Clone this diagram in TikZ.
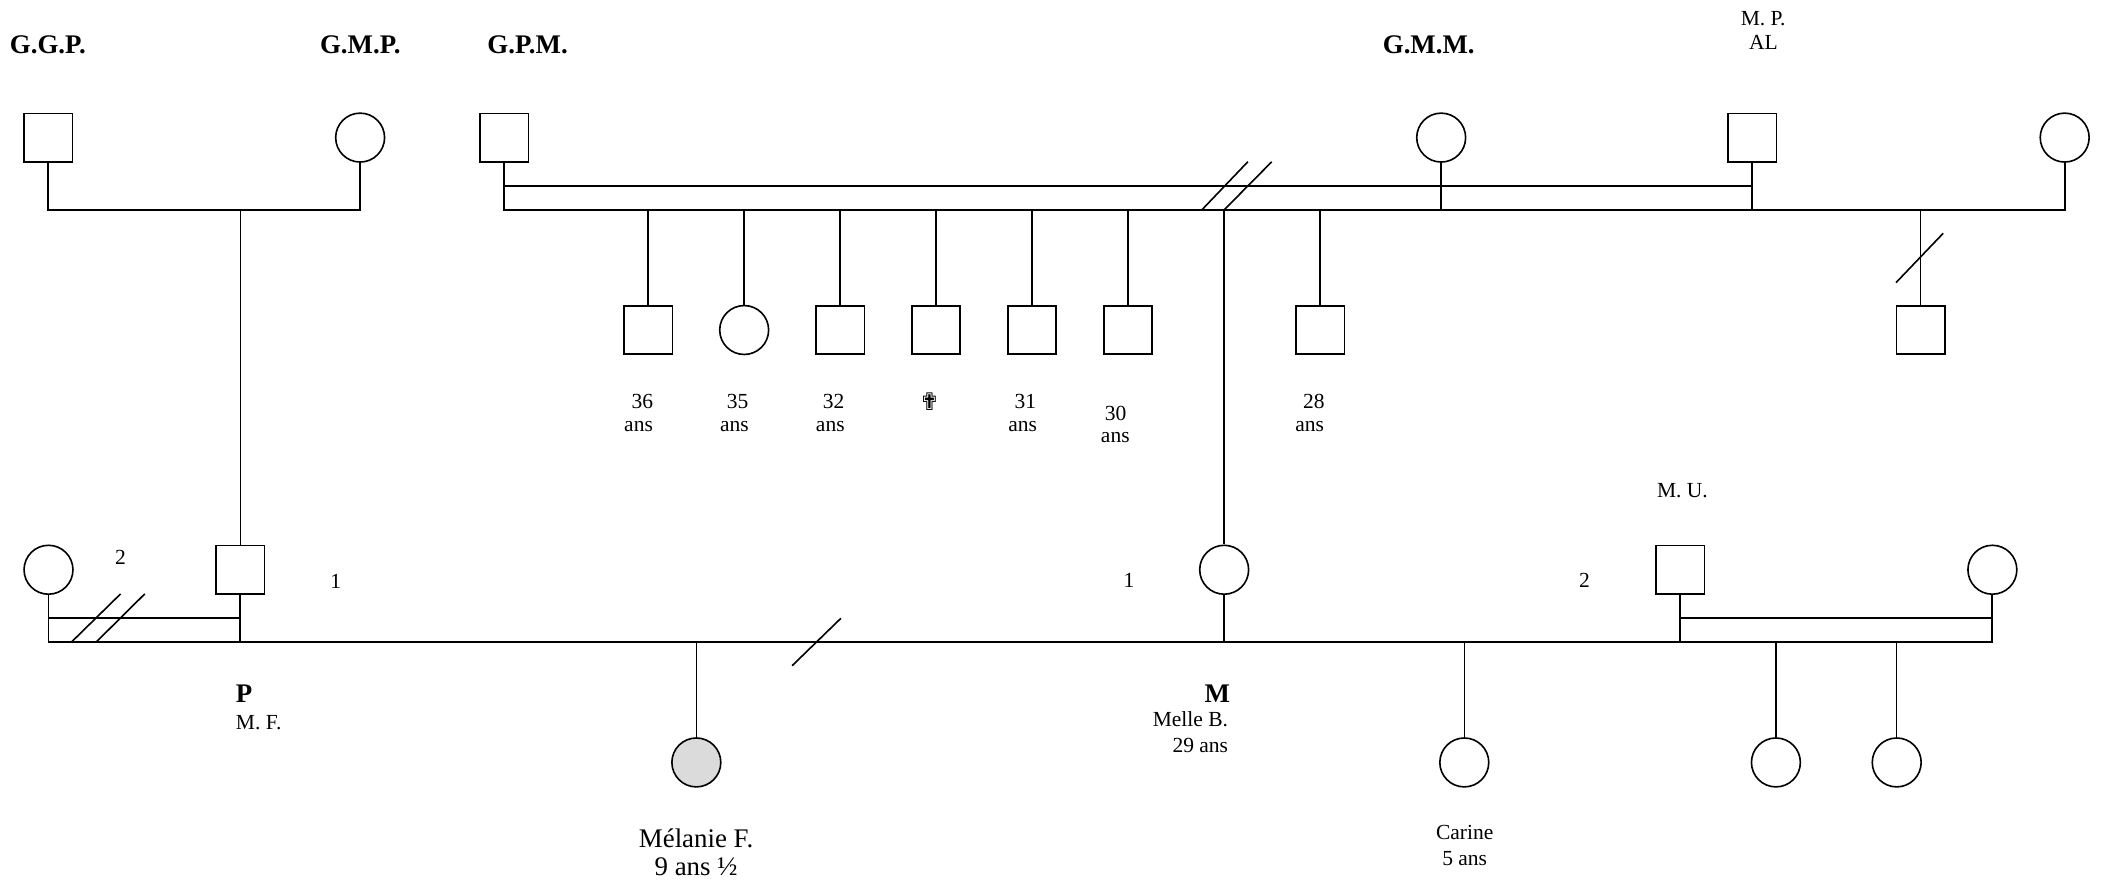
\documentclass[tikz,border=0pt]{standalone}
\usepackage{fontspec}
\setmainfont{Liberation Serif}
\newfontfamily\symfont{DejaVu Sans}

\begin{document}
\begin{tikzpicture}[x=0.5pt,y=-0.5pt,
  male/.style={draw, rectangle, minimum size=18pt, inner sep=0pt, line width=0.6pt},
  female/.style={draw, circle, minimum size=18.2pt, inner sep=0pt, line width=0.6pt},
  index/.style={female, fill=black!14},
  couple/.style={line width=0.7pt},
  descent/.style={line width=0.55pt},
  cut/.style={line width=0.6pt},
  lbl/.style={inner sep=0pt, font=\fontsize{8}{9.6}\selectfont},
  big/.style={inner sep=0pt, font=\fontsize{10}{12}\selectfont},
  title/.style={big, font=\fontsize{10}{12}\selectfont\bfseries},
]
\useasboundingbox (0,0) rectangle (1568,657);

% levels of the union lines
\coordinate (top1) at (0,156.3);
\coordinate (top2) at (0,138.4);
\coordinate (bot1) at (0,477.6);
\coordinate (bot2) at (0,460.1);

% ---------- grandparents ----------
\node[male]   (ggp)  at (36,102.4)   {};
\node[female] (gmp)  at (268,102.4)  {};
\node[male]   (gpm)  at (375.3,102.4) {};
\node[female] (gmm)  at (1072.5,102.4) {};
\node[male]   (mpal) at (1304,102.4) {};
\node[female] (fr)   at (1536.5,102.4) {};

\node[title, anchor=base west] (tggp) at (7,40)      {G.G.P.};
\node[title, anchor=base west] (tgmp) at (237.8,40)  {G.M.P.};
\node[title, anchor=base west] (tgpm) at (362.3,40)  {G.P.M.};
\node[title, anchor=base west] (tgmm) at (1028.7,40) {G.M.M.};
\node[lbl, anchor=base] (tmp) at (1312.1,18.9) {M. P.};
\node[lbl, anchor=base] (tal) at (1312.3,37.1) {AL};

% paternal couple
\draw[couple] (ggp) -- (ggp |- top1) -- (gmp |- top1) -- (gmp);
\coordinate (sib0) at (178.8,156.3);

% maternal unions
\draw[couple] (gpm) -- (gpm |- top1) -- (fr |- top1) -- (fr);
\draw[couple] (gpm |- top2) -- (mpal |- top2);
\draw[couple] (gmm) -- (gmm |- top1);
\draw[couple] (mpal) -- (mpal |- top1);
\draw[cut] (894.3,156.3) -- (928.6,120.4);
\draw[cut] (910.9,156.3) -- (946.4,120.4);

% ---------- siblings of M ----------
\foreach \n/\x/\s in {k1/482.4/male, k2/553.8/female, k3/625.2/male,
                      k4/696.6/male, k5/768.0/male, k6/839.4/male, k8/982.4/male}{
  \node[\s] (\n) at (\x,245.6) {};
  \draw[descent] (\n |- top1) -- (\n);
}
\node[lbl, anchor=base] (a1n) at (478.1,304.2) {36};
\node[lbl, anchor=base] (a1a) at (475.2,321.1) {ans};
\node[lbl, anchor=base] (a2n) at (549.0,304.2) {35};
\node[lbl, anchor=base] (a2a) at (546.5,321.1) {ans};
\node[lbl, anchor=base] (a3n) at (620.4,304.2) {32};
\node[lbl, anchor=base] (a3a) at (617.9,321.1) {ans};
\node[inner sep=0pt, font=\symfont\fontsize{9}{10}\selectfont] (a4) at (691.8,298.9) {✟};
\node[lbl, anchor=base] (a5n) at (763.0,304.2) {31};
\node[lbl, anchor=base] (a5a) at (761.0,321.1) {ans};
\node[lbl, anchor=base] (a6n) at (830.2,312.9) {30};
\node[lbl, anchor=base] (a6a) at (830.0,329.0) {ans};
\node[lbl, anchor=base] (a8n) at (977.8,304.2) {28};
\node[lbl, anchor=base] (a8a) at (974.6,321.1) {ans};

% half-sibling on the right
\node[male] (hs) at (1429.2,245.6) {};
\draw[descent] (hs |- top1) -- (hs);
\draw[cut] (1411,210.3) -- (1446.1,173.6);

% ---------- parents ----------
\node[female] (lw) at (36.1,424)   {};
\node[male]   (pp) at (178.8,424)  {};
\node[female] (mm) at (911,424)    {};
\node[male]   (mu) at (1250.5,424) {};
\node[female] (rw) at (1482.7,424) {};

\draw[descent] (sib0) -- (pp);
\draw[descent] (mm |- top1) -- (mm);

\draw[couple] (lw) -- (lw |- bot1) -- (rw |- bot1) -- (rw);
\draw[couple] (lw |- bot2) -- (pp |- bot2);
\draw[couple] (pp) -- (pp |- bot1);
\draw[couple] (mm) -- (mm |- bot1);
\draw[couple] (mu) -- (mu |- bot1);
\draw[couple] (mu |- bot2) -- (rw |- bot2);
\draw[cut] (53.4,477.6) -- (89.7,442);
\draw[cut] (71.8,477.6) -- (107.7,442);
\draw[cut] (589.5,495.4) -- (625.8,460.1);

\node[lbl, anchor=base] (n2a) at (89.7,420)    {2};
\node[lbl, anchor=base] (n1a) at (249.9,437.7) {1};
\node[lbl, anchor=base] (n1b) at (840.1,437.4) {1};
\node[lbl, anchor=base] (n2b) at (1179.2,437.4) {2};
\node[lbl, anchor=base] (tmu) at (1252,370.4)  {M. U.};

\node[title, anchor=base west] (tp)  at (175.2,522.6) {P};
\node[lbl,   anchor=base west] (tmf) at (175.2,543.1) {M. F.};
\node[title, anchor=base east] (tm)  at (915.8,522.6) {M};
\node[lbl,   anchor=base east] (tmb) at (914.3,540.6) {Melle B.};
\node[lbl,   anchor=base east] (tma) at (914.3,559.7) {29 ans};

% ---------- children ----------
\node[index]  (mel) at (518.2,567.4)  {};
\node[female] (car) at (1089.7,567.4) {};
\node[female] (g1)  at (1321.6,567.4) {};
\node[female] (g2)  at (1411.5,567.4) {};
\foreach \n in {mel, car, g1, g2}
  \draw[descent] (\n |- bot1) -- (\n);

\node[big, anchor=base] (tmel) at (518,630.5)  {Mélanie F.};
\node[big, anchor=base] (tmel2) at (518,651.6) {9 ans ½};
\node[lbl, anchor=base] (tcar) at (1090,624.9) {Carine};
\node[lbl, anchor=base] (tcar2) at (1090,644)  {5 ans};
\end{tikzpicture}
\end{document}
